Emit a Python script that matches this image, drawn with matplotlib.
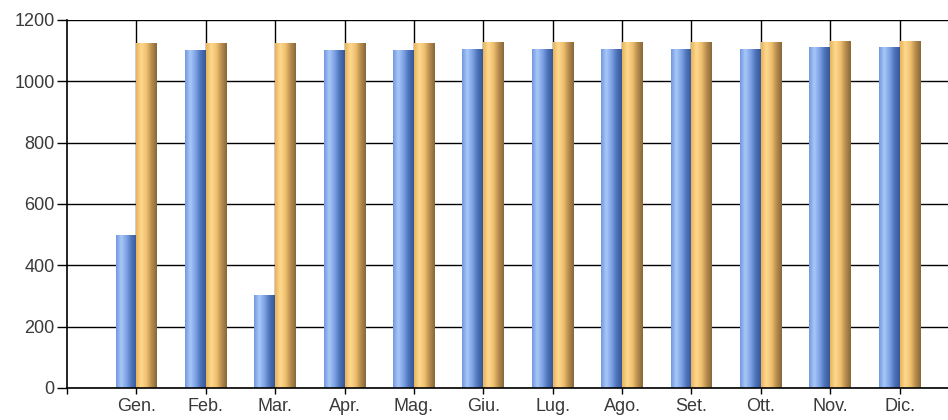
import matplotlib
matplotlib.use("Agg")
import matplotlib.pyplot as plt
import numpy as np
from matplotlib.colors import LinearSegmentedColormap

MONTHS: list[str] = [
    "Gen.", "Feb.", "Mar.", "Apr.", "Mag.", "Giu.",
    "Lug.", "Ago.", "Set.", "Ott.", "Nov.", "Dic.",
]

SERIES_BLUE: list[float] = [
    500, 1102, 302, 1102, 1102, 1106,
    1106, 1106, 1107, 1107, 1113, 1113,
]

SERIES_ORANGE: list[float] = [
    1124, 1124, 1124, 1124, 1124, 1127,
    1127, 1127, 1127, 1127, 1132, 1132,
]

BLUE_STOPS = ["#6f98e0", "#a9c8f8", "#7ea4e6", "#4d72b8", "#34579a"]
ORANGE_STOPS = ["#e8b258", "#ffd98f", "#f0c070", "#b58c4c", "#87663a"]


def shade_bars(ax, bars, stops):
    """Fill each bar with a horizontal cylinder-like gradient."""
    cmap = LinearSegmentedColormap.from_list("cyl", stops)
    grad = np.linspace(0, 1, 256).reshape(1, -1)
    for bar in bars:
        x0, y0 = bar.get_x(), bar.get_y()
        w, h = bar.get_width(), bar.get_height()
        bar.set_facecolor("none")
        bar.set_edgecolor("none")
        img = ax.imshow(
            grad, cmap=cmap, aspect="auto",
            extent=(x0, x0 + w, y0, y0 + h), zorder=3,
            interpolation="bilinear",
        )
        img.set_clip_path(bar)


def plot_chart(save_path: str = "out.png") -> None:
    fig = plt.figure(figsize=(9.48, 4.2), dpi=100)
    left_px, right_px = 67, 969
    bottom_px, top_px = 388, 20
    ax = fig.add_axes([
        left_px / 948,
        (420 - bottom_px) / 420,
        (right_px - left_px) / 948,
        (bottom_px - top_px) / 420,
    ])

    x = np.arange(1, len(MONTHS) + 1)
    width = 0.3
    blue = ax.bar(x - width / 2, SERIES_BLUE, width, zorder=3)
    orange = ax.bar(x + width / 2, SERIES_ORANGE, width, zorder=3)
    shade_bars(ax, blue, BLUE_STOPS)
    shade_bars(ax, orange, ORANGE_STOPS)

    ax.set_xlim(0, 13)
    ax.set_ylim(0, 1200)
    ax.set_yticks(range(0, 1201, 200))
    ax.set_xticks(np.arange(0, 13))
    ax.set_xticklabels([""] + MONTHS)

    ax.grid(True, color="black", linewidth=1, zorder=1)
    ax.set_axisbelow(True)
    ax.xaxis.get_gridlines()[0].set_visible(False)

    for side in ("top", "right"):
        ax.spines[side].set_visible(False)
    for side in ("left", "bottom"):
        ax.spines[side].set_color("black")
        ax.spines[side].set_linewidth(1.2)
        ax.spines[side].set_zorder(4)

    ax.tick_params(axis="both", direction="out", width=1,
                   colors="black", labelcolor="#3a3a3a", labelsize=13)
    ax.tick_params(axis="x", length=4, pad=3)
    ax.tick_params(axis="y", length=7.5, pad=1.5)
    for lbl in ax.get_xticklabels() + ax.get_yticklabels():
        lbl.set_fontfamily("Liberation Sans")

    fig.savefig(save_path, dpi=100)


def main() -> None:
    plot_chart()


if __name__ == "__main__":
    main()
